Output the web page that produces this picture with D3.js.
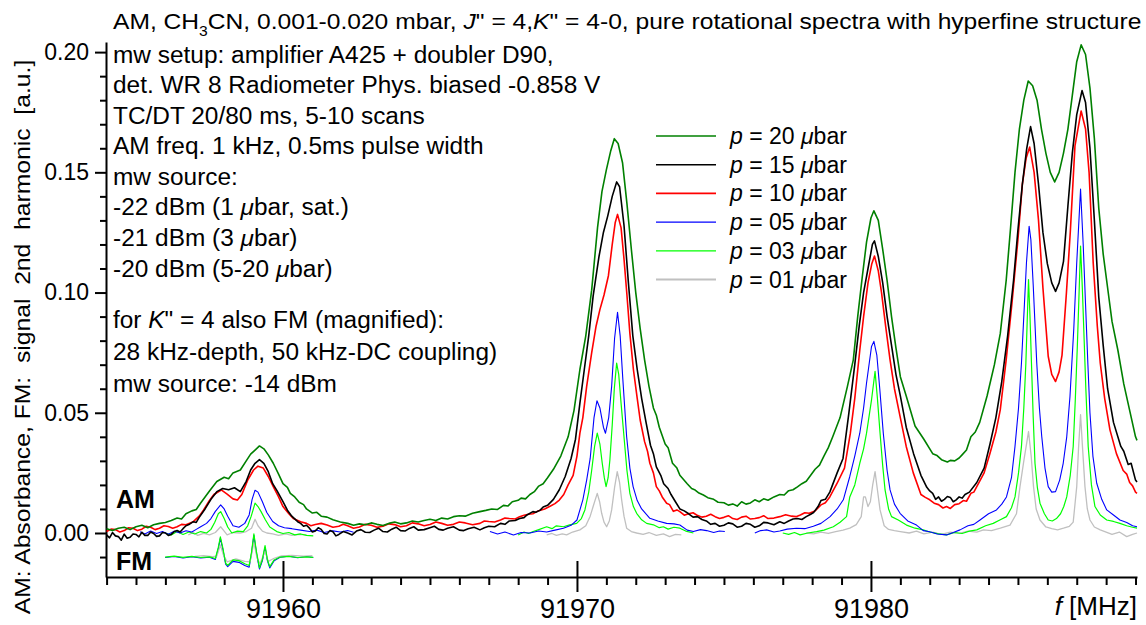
<!DOCTYPE html>
<html>
<head>
<meta charset="utf-8">
<script src="https://cdn.jsdelivr.net/npm/d3@7"></script>
<style>
  body { margin: 0; background: #fff; }
  svg { display: block; font-family: "Liberation Sans", Arial, sans-serif; }
</style>
</head>
<body>
<svg id="chart" width="1146" height="625"></svg>
<script>
'use strict';

// AM spectra, [f in MHz, signal], null = gap between scanned windows
const p20 = [[91954.0,0.0018],[91954.2,0.0010],[91954.4,0.0020],[91954.6,0.0024],[91954.8,0.0014],[91955.0,0.0026],[91955.2,0.0032],[91955.4,0.0022],[91955.6,0.0034],[91955.8,0.0040],[91956.0,0.0044],[91956.2,0.0052],[91956.4,0.0062],[91956.55,0.0058],[91956.7,0.0080],[91956.9,0.0092],[91957.05,0.0098],[91957.2,0.0125],[91957.35,0.0150],[91957.5,0.0175],[91957.75,0.0214],[91958.0,0.0232],[91958.15,0.0226],[91958.3,0.0250],[91958.55,0.0262],[91958.75,0.0300],[91958.9,0.0328],[91959.05,0.0345],[91959.2,0.0362],[91959.35,0.0350],[91959.5,0.0325],[91959.67,0.0290],[91959.85,0.0245],[91960.0,0.0205],[91960.15,0.0190],[91960.25,0.0165],[91960.4,0.0150],[91960.55,0.0128],[91960.7,0.0118],[91960.8,0.0100],[91961.0,0.0083],[91961.15,0.0086],[91961.3,0.0070],[91961.5,0.0066],[91961.7,0.0055],[91961.95,0.0046],[91962.2,0.0040],[91962.4,0.0032],[91962.6,0.0038],[91962.8,0.0034],[91963.0,0.0042],[91963.2,0.0036],[91963.4,0.0031],[91963.6,0.0040],[91963.8,0.0046],[91964.0,0.0038],[91964.2,0.0042],[91964.4,0.0050],[91964.6,0.0046],[91964.8,0.0052],[91965.0,0.0057],[91965.2,0.0052],[91965.4,0.0062],[91965.6,0.0058],[91965.8,0.0068],[91966.0,0.0072],[91966.2,0.0070],[91966.45,0.0082],[91966.7,0.0089],[91966.9,0.0094],[91967.1,0.0100],[91967.3,0.0098],[91967.5,0.0115],[91967.65,0.0112],[91967.8,0.0130],[91968.0,0.0136],[91968.1,0.0145],[91968.25,0.0142],[91968.4,0.0160],[91968.55,0.0172],[91968.7,0.0195],[91968.85,0.0205],[91969.0,0.0230],[91969.2,0.0265],[91969.45,0.0320],[91969.7,0.0400],[91969.9,0.0510],[91970.1,0.0680],[91970.3,0.0820],[91970.5,0.1010],[91970.7,0.1270],[91970.85,0.1420],[91971.0,0.1510],[91971.15,0.1590],[91971.27,0.1640],[91971.4,0.1620],[91971.55,0.1540],[91971.7,0.1370],[91971.85,0.1180],[91972.0,0.1000],[91972.15,0.0850],[91972.3,0.0720],[91972.45,0.0610],[91972.6,0.0520],[91972.7,0.0490],[91972.8,0.0440],[91973.0,0.0370],[91973.1,0.0355],[91973.25,0.0290],[91973.4,0.0270],[91973.5,0.0240],[91973.75,0.0205],[91973.9,0.0185],[91974.0,0.0180],[91974.15,0.0166],[91974.3,0.0158],[91974.45,0.0147],[91974.65,0.0140],[91974.8,0.0128],[91975.0,0.0126],[91975.15,0.0116],[91975.3,0.0121],[91975.45,0.0112],[91975.6,0.0130],[91975.75,0.0120],[91975.9,0.0125],[91976.05,0.0138],[91976.2,0.0130],[91976.35,0.0142],[91976.5,0.0136],[91976.7,0.0150],[91976.9,0.0160],[91977.05,0.0158],[91977.2,0.0176],[91977.35,0.0180],[91977.5,0.0192],[91977.65,0.0205],[91977.8,0.0215],[91977.95,0.0240],[91978.1,0.0265],[91978.25,0.0282],[91978.4,0.0320],[91978.55,0.0355],[91978.7,0.0400],[91978.95,0.0480],[91979.2,0.0610],[91979.4,0.0720],[91979.55,0.0900],[91979.7,0.1060],[91979.85,0.1210],[91980.0,0.1310],[91980.1,0.1340],[91980.25,0.1300],[91980.4,0.1180],[91980.55,0.1050],[91980.7,0.0900],[91980.85,0.0770],[91981.0,0.0650],[91981.2,0.0570],[91981.5,0.0445],[91981.8,0.0390],[91982.1,0.0330],[91982.25,0.0322],[91982.4,0.0305],[91982.6,0.0295],[91982.7,0.0302],[91982.85,0.0300],[91983.0,0.0312],[91983.1,0.0325],[91983.25,0.0345],[91983.4,0.0400],[91983.55,0.0420],[91983.7,0.0460],[91983.95,0.0570],[91984.2,0.0700],[91984.4,0.0830],[91984.6,0.1050],[91984.75,0.1270],[91984.9,0.1500],[91985.05,0.1680],[91985.2,0.1800],[91985.35,0.1880],[91985.5,0.1860],[91985.65,0.1800],[91985.8,0.1680],[91985.95,0.1580],[91986.1,0.1500],[91986.25,0.1460],[91986.4,0.1500],[91986.55,0.1580],[91986.7,0.1680],[91986.85,0.1820],[91987.0,0.1960],[91987.15,0.2030],[91987.3,0.1990],[91987.45,0.1850],[91987.6,0.1640],[91987.75,0.1350],[91987.9,0.1160],[91988.05,0.1020],[91988.2,0.0880],[91988.4,0.0760],[91988.6,0.0620],[91988.8,0.0510],[91989.0,0.0400],[91989.05,0.0385]];

const p15 = [[91954.0,-0.0008],[91954.1,-0.0020],[91954.2,0.0002],[91954.3,-0.0012],[91954.4,-0.0015],[91954.5,-0.0030],[91954.6,-0.0005],[91954.7,-0.0022],[91954.8,-0.0018],[91954.9,-0.0004],[91955.0,-0.0006],[91955.1,-0.0016],[91955.2,0.0003],[91955.3,-0.0010],[91955.4,-0.0010],[91955.5,0.0004],[91955.6,-0.0002],[91955.7,-0.0014],[91955.8,-0.0012],[91955.9,0.0002],[91956.0,0.0],[91956.1,-0.0010],[91956.2,-0.0006],[91956.3,0.0006],[91956.4,0.0010],[91956.5,0.0004],[91956.6,0.0018],[91956.7,0.0030],[91956.8,0.0035],[91956.95,0.0047],[91957.05,0.0044],[91957.15,0.0065],[91957.35,0.0100],[91957.55,0.0140],[91957.75,0.0172],[91957.95,0.0185],[91958.15,0.0180],[91958.35,0.0188],[91958.55,0.0172],[91958.75,0.0215],[91958.9,0.0262],[91959.05,0.0290],[91959.2,0.0305],[91959.35,0.0290],[91959.5,0.0255],[91959.65,0.0205],[91959.8,0.0175],[91960.0,0.0130],[91960.15,0.0095],[91960.3,0.0070],[91960.5,0.0047],[91960.6,0.0040],[91960.7,0.0028],[91960.8,0.0032],[91960.9,0.0020],[91961.0,0.0004],[91961.1,0.0008],[91961.2,0.0022],[91961.3,0.0015],[91961.4,-0.0002],[91961.5,-0.0004],[91961.6,0.0010],[91961.7,0.0005],[91961.8,-0.0012],[91961.9,-0.0006],[91962.05,0.0006],[91962.2,0.0],[91962.35,-0.0008],[91962.5,0.0008],[91962.65,0.0014],[91962.8,0.0003],[91962.95,0.0002],[91963.1,0.0012],[91963.25,0.0020],[91963.4,0.0006],[91963.55,0.0004],[91963.7,0.0016],[91963.85,0.0024],[91964.0,0.0010],[91964.15,0.0008],[91964.3,0.0019],[91964.45,0.0026],[91964.6,0.0012],[91964.8,0.0014],[91965.0,0.0022],[91965.15,0.0028],[91965.3,0.0015],[91965.45,0.0012],[91965.6,0.0020],[91965.8,0.0026],[91966.0,0.0012],[91966.15,0.0010],[91966.3,0.0018],[91966.5,0.0024],[91966.7,0.0013],[91966.85,0.0022],[91967.0,0.0028],[91967.2,0.0026],[91967.4,0.0040],[91967.55,0.0036],[91967.7,0.0050],[91967.9,0.0052],[91968.05,0.0060],[91968.2,0.0064],[91968.3,0.0075],[91968.5,0.0089],[91968.6,0.0086],[91968.75,0.0095],[91968.85,0.0108],[91969.0,0.0115],[91969.2,0.0140],[91969.4,0.0180],[91969.6,0.0235],[91969.8,0.0310],[91969.95,0.0390],[91970.1,0.0540],[91970.25,0.0680],[91970.4,0.0820],[91970.55,0.0985],[91970.75,0.1150],[91970.9,0.1250],[91971.05,0.1320],[91971.2,0.1400],[91971.35,0.1460],[91971.45,0.1440],[91971.6,0.1280],[91971.75,0.1040],[91971.9,0.0820],[91972.05,0.0680],[91972.2,0.0560],[91972.35,0.0460],[91972.5,0.0365],[91972.6,0.0330],[91972.7,0.0275],[91972.85,0.0240],[91972.95,0.0205],[91973.1,0.0185],[91973.2,0.0160],[91973.35,0.0130],[91973.5,0.0100],[91973.65,0.0092],[91973.8,0.0080],[91973.95,0.0066],[91974.1,0.0068],[91974.25,0.0056],[91974.4,0.0050],[91974.55,0.0036],[91974.7,0.0040],[91974.85,0.0028],[91975.0,0.0032],[91975.15,0.0042],[91975.3,0.0038],[91975.45,0.0024],[91975.6,0.0028],[91975.75,0.0040],[91975.9,0.0036],[91976.05,0.0024],[91976.2,0.0030],[91976.35,0.0044],[91976.5,0.0042],[91976.7,0.0034],[91976.9,0.0047],[91977.05,0.0040],[91977.2,0.0050],[91977.35,0.0058],[91977.5,0.0060],[91977.65,0.0056],[91977.8,0.0068],[91977.95,0.0078],[91978.05,0.0085],[91978.2,0.0110],[91978.3,0.0135],[91978.45,0.0140],[91978.6,0.0170],[91978.85,0.0250],[91979.05,0.0310],[91979.25,0.0500],[91979.45,0.0700],[91979.6,0.0860],[91979.75,0.1000],[91979.9,0.1100],[91980.05,0.1200],[91980.12,0.1215],[91980.25,0.1150],[91980.4,0.1040],[91980.55,0.0900],[91980.7,0.0780],[91980.85,0.0660],[91981.0,0.0570],[91981.2,0.0440],[91981.45,0.0330],[91981.7,0.0240],[91981.9,0.0190],[91982.0,0.0175],[91982.1,0.0165],[91982.2,0.0140],[91982.3,0.0150],[91982.4,0.0132],[91982.5,0.0140],[91982.6,0.0152],[91982.7,0.0148],[91982.8,0.0130],[91982.9,0.0138],[91983.0,0.0150],[91983.1,0.0145],[91983.2,0.0160],[91983.35,0.0170],[91983.6,0.0210],[91983.85,0.0270],[91984.05,0.0370],[91984.25,0.0480],[91984.45,0.0630],[91984.65,0.0820],[91984.85,0.1050],[91985.0,0.1260],[91985.15,0.1450],[91985.3,0.1600],[91985.43,0.1690],[91985.55,0.1620],[91985.7,0.1450],[91985.85,0.1250],[91986.0,0.1120],[91986.15,0.1040],[91986.28,0.1005],[91986.4,0.1040],[91986.55,0.1130],[91986.7,0.1360],[91986.85,0.1580],[91987.0,0.1740],[91987.18,0.1840],[91987.3,0.1790],[91987.45,0.1600],[91987.6,0.1300],[91987.75,0.0980],[91987.9,0.0780],[91988.05,0.0600],[91988.25,0.0460],[91988.5,0.0360],[91988.6,0.0340],[91988.75,0.0285],[91988.85,0.0290],[91989.0,0.0220],[91989.05,0.0212]];

const p10 = [[91954.0,0.0006],[91954.15,0.0016],[91954.3,0.0014],[91954.45,0.0004],[91954.6,0.0010],[91954.75,0.0022],[91954.9,0.0020],[91955.05,0.0010],[91955.2,0.0016],[91955.35,0.0028],[91955.5,0.0024],[91955.65,0.0014],[91955.8,0.0020],[91955.95,0.0030],[91956.1,0.0027],[91956.25,0.0020],[91956.4,0.0026],[91956.55,0.0036],[91956.7,0.0034],[91956.95,0.0047],[91957.15,0.0070],[91957.3,0.0096],[91957.5,0.0135],[91957.65,0.0160],[91957.9,0.0179],[91958.1,0.0162],[91958.3,0.0142],[91958.45,0.0137],[91958.6,0.0160],[91958.8,0.0220],[91959.0,0.0262],[91959.15,0.0278],[91959.33,0.0270],[91959.5,0.0235],[91959.67,0.0193],[91959.85,0.0150],[91960.0,0.0110],[91960.2,0.0080],[91960.35,0.0060],[91960.6,0.0047],[91960.8,0.0040],[91960.95,0.0030],[91961.1,0.0035],[91961.3,0.0040],[91961.5,0.0033],[91961.7,0.0024],[91961.9,0.0028],[91962.05,0.0036],[91962.2,0.0030],[91962.4,0.0020],[91962.6,0.0025],[91962.8,0.0036],[91963.0,0.0032],[91963.2,0.0024],[91963.4,0.0028],[91963.6,0.0038],[91963.8,0.0035],[91964.0,0.0026],[91964.2,0.0030],[91964.4,0.0042],[91964.6,0.0038],[91964.8,0.0030],[91965.0,0.0035],[91965.2,0.0046],[91965.4,0.0040],[91965.6,0.0032],[91965.8,0.0036],[91966.0,0.0046],[91966.2,0.0042],[91966.45,0.0034],[91966.7,0.0040],[91966.85,0.0050],[91967.0,0.0048],[91967.2,0.0046],[91967.4,0.0054],[91967.55,0.0062],[91967.7,0.0060],[91967.9,0.0058],[91968.05,0.0068],[91968.2,0.0074],[91968.35,0.0078],[91968.5,0.0080],[91968.65,0.0090],[91968.9,0.0100],[91969.1,0.0112],[91969.25,0.0122],[91969.4,0.0137],[91969.55,0.0160],[91969.7,0.0200],[91969.87,0.0240],[91970.0,0.0320],[91970.1,0.0415],[91970.2,0.0480],[91970.33,0.0610],[91970.5,0.0749],[91970.65,0.0860],[91970.78,0.0929],[91970.92,0.0990],[91971.07,0.1070],[91971.2,0.1200],[91971.3,0.1290],[91971.38,0.1325],[91971.5,0.1270],[91971.6,0.1140],[91971.7,0.0990],[91971.8,0.0830],[91971.92,0.0680],[91972.05,0.0560],[91972.15,0.0470],[91972.3,0.0380],[91972.4,0.0340],[91972.48,0.0290],[91972.6,0.0250],[91972.7,0.0193],[91972.8,0.0175],[91972.9,0.0150],[91973.05,0.0124],[91973.15,0.0118],[91973.28,0.0090],[91973.4,0.0096],[91973.5,0.0089],[91973.65,0.0074],[91973.8,0.0080],[91973.95,0.0084],[91974.07,0.0075],[91974.25,0.0066],[91974.4,0.0070],[91974.55,0.0078],[91974.7,0.0068],[91974.85,0.0060],[91975.0,0.0065],[91975.15,0.0072],[91975.3,0.0060],[91975.45,0.0056],[91975.6,0.0066],[91975.75,0.0070],[91975.9,0.0058],[91976.05,0.0060],[91976.2,0.0064],[91976.35,0.0072],[91976.5,0.0060],[91976.7,0.0062],[91976.9,0.0068],[91977.1,0.0076],[91977.3,0.0070],[91977.45,0.0068],[91977.6,0.0075],[91977.75,0.0084],[91977.9,0.0082],[91978.1,0.0092],[91978.3,0.0117],[91978.45,0.0126],[91978.6,0.0150],[91978.85,0.0207],[91979.1,0.0270],[91979.3,0.0415],[91979.45,0.0560],[91979.62,0.0760],[91979.75,0.0900],[91979.9,0.1040],[91980.03,0.1120],[91980.12,0.1152],[91980.25,0.1090],[91980.36,0.1000],[91980.5,0.0860],[91980.65,0.0720],[91980.8,0.0600],[91980.99,0.0485],[91981.2,0.0360],[91981.44,0.0250],[91981.7,0.0160],[91981.85,0.0148],[91982.0,0.0138],[91982.15,0.0124],[91982.3,0.0118],[91982.45,0.0104],[91982.57,0.0110],[91982.7,0.0102],[91982.85,0.0118],[91983.0,0.0122],[91983.14,0.0135],[91983.25,0.0132],[91983.4,0.0165],[91983.5,0.0170],[91983.6,0.0193],[91983.85,0.0250],[91984.05,0.0332],[91984.25,0.0420],[91984.4,0.0513],[91984.6,0.0720],[91984.8,0.0960],[91985.0,0.1220],[91985.15,0.1450],[91985.28,0.1560],[91985.4,0.1605],[91985.55,0.1500],[91985.7,0.1300],[91985.85,0.1020],[91986.03,0.0735],[91986.15,0.0660],[91986.28,0.0630],[91986.4,0.0670],[91986.5,0.0740],[91986.65,0.1000],[91986.78,0.1250],[91986.94,0.1610],[91987.15,0.1755],[91987.3,0.1680],[91987.42,0.1500],[91987.56,0.1124],[91987.7,0.0860],[91987.8,0.0707],[91987.95,0.0560],[91988.13,0.0429],[91988.35,0.0330],[91988.58,0.0260],[91988.7,0.0245],[91988.8,0.0210],[91988.9,0.0196],[91989.0,0.0170],[91989.05,0.0165]];

const p05 = [[91955.14,0.0005],[91955.3,-0.0004],[91955.5,0.0008],[91955.7,-0.0002],[91955.9,0.0006],[91956.1,-0.0005],[91956.3,0.0007],[91956.5,0.0000],[91956.7,0.0009],[91956.9,0.0004],[91957.05,0.0015],[91957.2,0.0026],[91957.4,0.0040],[91957.55,0.0060],[91957.7,0.0090],[91957.88,0.0117],[91958.0,0.0100],[91958.12,0.0070],[91958.3,0.0030],[91958.5,0.0024],[91958.7,0.0040],[91958.85,0.0075],[91958.95,0.0140],[91959.05,0.0178],[91959.15,0.0170],[91959.3,0.0130],[91959.45,0.0085],[91959.65,0.0048],[91959.85,0.0030],[91960.05,0.0022],[91960.3,0.0018],[91960.6,0.0012],[91960.9,0.0006],[91961.15,0.0012],[91961.4,0.0002],[91961.7,0.0009],[91961.95,0.0004],[91962.2,0.0010],[91962.4,0.0003],
  null,
  [91967.04,0.0006],[91967.3,-0.0004],[91967.55,0.0004],[91967.84,-0.0008],[91968.1,0.0002],[91968.4,0.0],[91968.7,0.0008],[91968.97,0.0004],[91969.25,0.0012],[91969.54,0.0020],[91969.8,0.0032],[91970.0,0.0054],[91970.2,0.0138],[91970.33,0.0220],[91970.45,0.0310],[91970.58,0.0480],[91970.68,0.0550],[91970.78,0.0520],[91970.9,0.0440],[91970.97,0.0415],[91971.08,0.0480],[91971.18,0.0610],[91971.28,0.0810],[91971.38,0.0918],[91971.47,0.0820],[91971.56,0.0640],[91971.69,0.0400],[91971.8,0.0270],[91971.91,0.0193],[91972.05,0.0135],[91972.2,0.0100],[91972.48,0.0061],[91972.75,0.0050],[91973.05,0.0040],[91973.3,0.0038],[91973.5,0.0033],[91973.75,0.0012],[91973.96,0.0006],[91974.2,0.0014],[91974.41,0.0010],[91974.65,0.0002],[91974.85,0.0008],[91975.03,0.0006],
  null,
  [91976.05,0.0],[91976.25,0.0010],[91976.45,0.0013],[91976.7,0.0004],[91976.9,0.0008],[91977.15,0.0016],[91977.47,0.0020],[91977.75,0.0018],[91978.04,0.0028],[91978.3,0.0040],[91978.61,0.0068],[91978.85,0.0100],[91979.06,0.0138],[91979.28,0.0235],[91979.45,0.0320],[91979.62,0.0415],[91979.75,0.0520],[91979.85,0.0624],[91980.02,0.0776],[91980.1,0.0797],[91980.2,0.0740],[91980.3,0.0600],[91980.42,0.0415],[91980.55,0.0260],[91980.65,0.0179],[91980.8,0.0120],[91980.99,0.0082],[91981.25,0.0050],[91981.55,0.0033],[91981.78,0.0010],[91982.0,0.0005],[91982.25,-0.0004],[91982.57,-0.0008],[91982.8,0.0002],[91983.03,0.0013],[91983.3,0.0030],[91983.5,0.0036],[91983.71,0.0054],[91984.0,0.0080],[91984.27,0.0096],[91984.45,0.0120],[91984.61,0.0150],[91984.78,0.0230],[91984.9,0.0360],[91985.02,0.0520],[91985.12,0.0707],[91985.22,0.0950],[91985.29,0.1124],[91985.38,0.1276],[91985.44,0.1220],[91985.52,0.1030],[91985.64,0.0707],[91985.73,0.0520],[91985.81,0.0401],[91985.92,0.0270],[91986.03,0.0193],[91986.15,0.0170],[91986.28,0.0172],[91986.42,0.0220],[91986.54,0.0290],[91986.66,0.0400],[91986.77,0.0568],[91986.9,0.0850],[91987.0,0.1124],[91987.13,0.1430],[91987.22,0.1200],[91987.3,0.0950],[91987.38,0.0700],[91987.45,0.0499],[91987.55,0.0320],[91987.68,0.0207],[91987.85,0.0140],[91988.02,0.0096],[91988.25,0.0075],[91988.47,0.0054],[91988.7,0.0044],[91988.9,0.0030],[91989.05,0.0026]];

const p03 = [[91955.99,0.0],[91956.2,-0.0008],[91956.4,0.0006],[91956.6,-0.0006],[91956.8,0.0004],[91957.0,-0.0004],[91957.2,0.0006],[91957.4,0.0000],[91957.55,0.0015],[91957.68,0.0045],[91957.8,0.0080],[91957.88,0.0089],[91958.0,0.0060],[91958.12,0.0025],[91958.26,0.0],[91958.45,0.0008],[91958.65,0.0006],[91958.8,0.0030],[91958.92,0.0070],[91959.05,0.0124],[91959.15,0.0110],[91959.25,0.0090],[91959.4,0.0055],[91959.55,0.0025],[91959.79,0.0006],[91960.0,-0.0002],[91960.2,0.0002],[91960.4,-0.0008],[91960.6,-0.0004],[91960.8,-0.0010],[91961.03,-0.0012],
  null,
  [91968.0,-0.0008],[91968.2,0.0004],[91968.35,-0.0002],[91968.51,0.0006],[91968.7,0.0014],[91968.97,0.0026],[91969.15,0.0018],[91969.3,0.0030],[91969.54,0.0026],[91969.75,0.0034],[91969.99,0.0040],[91970.15,0.0060],[91970.27,0.0096],[91970.4,0.0170],[91970.5,0.0260],[91970.6,0.0360],[91970.69,0.0415],[91970.78,0.0370],[91970.86,0.0290],[91970.93,0.0230],[91970.99,0.0193],[91971.06,0.0230],[91971.12,0.0304],[91971.2,0.0450],[91971.27,0.0600],[91971.35,0.0707],[91971.42,0.0660],[91971.5,0.0540],[91971.6,0.0400],[91971.7,0.0260],[91971.8,0.0165],[91971.92,0.0110],[91972.03,0.0082],[91972.2,0.0055],[91972.37,0.0040],[91972.6,0.0034],[91972.8,0.0022],[91972.94,0.0026],[91973.1,0.0016],[91973.3,0.0024],[91973.5,0.0020],[91973.7,0.0008],[91973.96,0.0],
  null,
  [91977.0,0.0],[91977.2,-0.0006],[91977.4,0.0002],[91977.59,-0.0008],[91977.85,0.0000],[91978.15,0.0006],[91978.4,0.0012],[91978.72,0.0026],[91978.95,0.0045],[91979.17,0.0068],[91979.28,0.0150],[91979.45,0.0200],[91979.62,0.0290],[91979.75,0.0350],[91979.85,0.0415],[91980.02,0.0554],[91980.14,0.0672],[91980.22,0.0560],[91980.31,0.0415],[91980.4,0.0280],[91980.48,0.0179],[91980.6,0.0100],[91980.7,0.0068],[91980.93,0.0054],[91981.21,0.0033],[91981.5,0.0020],[91981.78,0.0013],[91982.0,0.0004],[91982.3,-0.0004],[91982.57,-0.0008],[91982.85,0.0002],[91983.1,-0.0002],[91983.35,0.0008],[91983.6,0.0013],[91983.9,0.0030],[91984.16,0.0040],[91984.4,0.0055],[91984.61,0.0068],[91984.78,0.0105],[91984.9,0.0150],[91985.02,0.0250],[91985.12,0.0360],[91985.2,0.0520],[91985.27,0.0707],[91985.36,0.1054],[91985.41,0.0900],[91985.46,0.0707],[91985.52,0.0480],[91985.58,0.0290],[91985.66,0.0190],[91985.75,0.0124],[91985.9,0.0080],[91986.03,0.0054],[91986.17,0.0050],[91986.31,0.0060],[91986.45,0.0080],[91986.56,0.0110],[91986.66,0.0150],[91986.78,0.0240],[91986.88,0.0360],[91986.95,0.0550],[91987.02,0.0776],[91987.08,0.1000],[91987.13,0.1193],[91987.19,0.1020],[91987.24,0.0846],[91987.31,0.0600],[91987.39,0.0360],[91987.5,0.0200],[91987.62,0.0110],[91987.8,0.0075],[91988.02,0.0054],[91988.25,0.0048],[91988.47,0.0040],[91988.7,0.0030],[91988.9,0.0024],[91989.05,0.0020]];

const p01 = [[91956.78,-0.0008],[91956.95,0.0002],[91957.1,-0.0010],[91957.3,-0.0002],[91957.5,-0.0008],[91957.7,0.0002],[91957.88,0.0026],[91958.0,0.0008],[91958.1,-0.0008],[91958.3,0.0002],[91958.54,0.0],[91958.75,0.0006],[91958.93,0.0020],[91959.05,0.0057],[91959.15,0.0030],[91959.3,0.0008],[91959.45,0.0],[91959.65,-0.0004],[91959.85,-0.0010],[91960.1,-0.0004],[91960.3,-0.0010],[91960.55,-0.0006],[91960.8,-0.0008],
  null,
  [91968.97,-0.0008],[91969.15,-0.0002],[91969.3,-0.0010],[91969.5,-0.0004],[91969.65,-0.0008],[91969.85,0.0004],[91970.1,0.0013],[91970.3,0.0030],[91970.45,0.0070],[91970.55,0.0110],[91970.69,0.0165],[91970.77,0.0130],[91970.84,0.0082],[91970.92,0.0045],[91971.01,0.0026],[91971.1,0.0050],[91971.18,0.0096],[91971.28,0.0190],[91971.37,0.0255],[91971.45,0.0210],[91971.52,0.0138],[91971.6,0.0070],[91971.69,0.0020],[91971.85,0.0006],[91972.03,0.0],[91972.25,-0.0006],[91972.45,0.0002],[91972.7,-0.0010],[91972.94,-0.0004],[91973.15,-0.0015],[91973.35,-0.0006],[91973.55,-0.0008],
  null,
  [91977.8,0.0],[91978.05,-0.0004],[91978.3,0.0004],[91978.55,-0.0002],[91978.8,0.0006],[91979.05,0.0012],[91979.28,0.0020],[91979.5,0.0035],[91979.67,0.0068],[91979.75,0.0150],[91979.81,0.0150],[91979.9,0.0110],[91979.98,0.0130],[91980.06,0.0200],[91980.14,0.0255],[91980.22,0.0180],[91980.31,0.0096],[91980.45,0.0030],[91980.6,0.0015],[91980.8,0.0010],[91981.0,0.0006],[91981.3,0.0000],[91981.55,0.0008],[91981.8,-0.0004],[91982.1,0.0004],[91982.4,-0.0006],[91982.7,0.0004],[91983.0,-0.0002],[91983.3,0.0008],[91983.6,0.0004],[91983.83,0.0013],[91984.1,0.0010],[91984.4,0.0020],[91984.73,0.0033],[91984.95,0.0080],[91985.07,0.0193],[91985.2,0.0300],[91985.36,0.0422],[91985.45,0.0320],[91985.53,0.0193],[91985.62,0.0100],[91985.75,0.0054],[91985.95,0.0025],[91986.15,0.0018],[91986.35,0.0013],[91986.55,0.0020],[91986.75,0.0028],[91986.88,0.0045],[91987.0,0.0193],[91987.06,0.0350],[91987.13,0.0492],[91987.2,0.0350],[91987.28,0.0193],[91987.36,0.0100],[91987.45,0.0054],[91987.6,0.0025],[91987.8,0.0013],[91988.0,0.0004],[91988.2,-0.0006],[91988.45,0.0004],[91988.7,-0.0015],[91988.9,-0.0006],[91989.05,0.0]];

// FM traces (magnified, drawn below the AM baseline)
const fm05 = [[91955.99,-0.0102],[91956.3,-0.0098],[91956.6,-0.0104],[91956.9,-0.0099],[91957.2,-0.0104],[91957.5,-0.0101],[91957.7,-0.0110],[91957.8,-0.0065],[91957.87,-0.0022],[91957.95,-0.0065],[91958.05,-0.0130],[91958.12,-0.0140],[91958.3,-0.0118],[91958.5,-0.0122],[91958.7,-0.0135],[91958.85,-0.0142],[91958.93,-0.0085],[91959.01,-0.0010],[91959.1,-0.0085],[91959.2,-0.0150],[91959.3,-0.0115],[91959.39,-0.0060],[91959.47,-0.0115],[91959.55,-0.0145],[91959.7,-0.0115],[91959.9,-0.0101],[91960.2,-0.0097],[91960.5,-0.0103],[91960.8,-0.0098],[91961.03,-0.0102]];
const fm03 = [[91955.99,-0.0100],[91956.3,-0.0096],[91956.6,-0.0101],[91956.9,-0.0097],[91957.2,-0.0102],[91957.5,-0.0099],[91957.7,-0.0106],[91957.8,-0.0060],[91957.87,-0.0016],[91957.95,-0.0060],[91958.05,-0.0125],[91958.12,-0.0135],[91958.3,-0.0112],[91958.5,-0.0115],[91958.7,-0.0128],[91958.85,-0.0135],[91958.93,-0.0080],[91959.01,-0.0004],[91959.1,-0.0080],[91959.2,-0.0145],[91959.3,-0.0110],[91959.39,-0.0052],[91959.47,-0.0110],[91959.55,-0.0140],[91959.7,-0.0112],[91959.9,-0.0100],[91960.2,-0.0097],[91960.5,-0.0102],[91960.8,-0.0099],[91961.03,-0.0101]];
const fm01 = [[91957.0,-0.0097],[91957.3,-0.0094],[91957.6,-0.0098],[91957.75,-0.0096],[91957.87,-0.0050],[91957.97,-0.0090],[91958.1,-0.0120],[91958.4,-0.0108],[91958.7,-0.0118],[91958.88,-0.0120],[91959.01,-0.0040],[91959.12,-0.0105],[91959.22,-0.0128],[91959.39,-0.0075],[91959.5,-0.0118],[91959.7,-0.0105],[91959.95,-0.0095],[91960.3,-0.0093],[91960.7,-0.0096],[91961.0,-0.0094]];

const legendLabels = ["20", "15", "10", "05", "03", "01"];
const yMajor = [0, 0.05, 0.10, 0.15, 0.20];
const xMajor = [91960, 91970, 91980];

const noteLines = [
  "mw setup: amplifier A425 + doubler D90,",
  "det. WR 8 Radiometer Phys. biased -0.858 V",
  "TC/DT 20/80 ms, 5-10 scans",
  "AM freq. 1 kHz, 0.5ms pulse width",
  "mw source:",
  "-22 dBm (1 *μ*bar, sat.)",
  "-21 dBm (3 *μ*bar)",
  "-20 dBm (5-20 *μ*bar)",
  "",
  "for *K*\" = 4 also FM (magnified):",
  "28 kHz-depth, 50 kHz-DC coupling)",
  "mw source: -14 dBm"
];

const colors = ["#008000", "#000000", "#ff0000", "#0000ff", "#00ff00", "#c0c0c0"];
const widths = [1.6, 1.6, 1.6, 1.1, 1.2, 1.3];

const svg = d3.select("#chart");
const x = d3.scaleLinear().domain([91953.98, 91989.05]).range([106, 1137]);
const y = d3.scaleLinear().domain([-0.0183, 0.2042]).range([577, 42]);

// ---- axes
const yMinor = d3.range(-1, 21).map(d => d / 100).filter(d => Math.round(d * 100) % 5 !== 0);
const xMinor = d3.range(91954, 91990).filter(d => d % 10 !== 0);

svg.append("g").attr("transform", "translate(106,0)")
  .call(d3.axisLeft(y).tickValues(yMinor).tickSize(6).tickSizeOuter(0).tickFormat(""))
  .call(g => g.select(".domain").remove());
const yAx = svg.append("g").attr("transform", "translate(106,0)")
  .call(d3.axisLeft(y).tickValues(yMajor).tickSize(11).tickPadding(6).tickSizeOuter(0).tickFormat(d3.format(".2f")));
yAx.selectAll("text").attr("font-size", 23).attr("font-family", null).attr("fill", "#000");

svg.append("g").attr("transform", "translate(0,577)")
  .call(d3.axisBottom(x).tickValues(xMinor).tickSize(8).tickSizeOuter(0).tickFormat(""))
  .call(g => g.select(".domain").remove());
svg.append("g").attr("transform", "translate(0,577)")
  .call(d3.axisTop(x).tickValues(xMajor).tickSize(16).tickFormat(""))
  .call(g => g.select(".domain").remove());
const xAx = svg.append("g").attr("transform", "translate(0,577)")
  .call(d3.axisBottom(x).tickValues(xMajor).tickSize(15).tickSizeOuter(0).tickFormat(d3.format("d")));
xAx.selectAll("text").attr("font-size", 27).attr("font-family", null).attr("fill", "#000")
  .attr("y", 41).attr("dy", null);

svg.selectAll(".tick line, .domain").attr("stroke", "#000").attr("stroke-width", 2);

// ---- spectra
const line = d3.line()
  .defined(d => d !== null)
  .x(d => x(d[0]))
  .y(d => y(d[1]));

const amSeries = [p20, p15, p10, p05, p03, p01];
const drawOrder = [5, 4, 3, 2, 1, 0];
drawOrder.forEach(i => {
  svg.append("path").datum(amSeries[i])
    .attr("fill", "none").attr("stroke", colors[i]).attr("stroke-width", widths[i])
    .attr("stroke-linejoin", "round").attr("d", line);
});
[[fm05, 3], [fm01, 5], [fm03, 4]].forEach(([s, i]) => {
  svg.append("path").datum(s)
    .attr("fill", "none").attr("stroke", colors[i]).attr("stroke-width", widths[i])
    .attr("stroke-linejoin", "round").attr("d", line);
});

// ---- legend
legendLabels.forEach((lab, i) => {
  const ly = 136 + i * 28.7;
  svg.append("line").attr("x1", 656).attr("x2", 716).attr("y1", ly).attr("y2", ly)
    .attr("stroke", colors[i]).attr("stroke-width", i === 5 ? 2 : widths[i]);
  const t = svg.append("text").attr("x", 730).attr("y", ly + 8).attr("font-size", 23);
  t.append("tspan").attr("font-style", "italic").text("p");
  t.append("tspan").text(` = ${lab} `);
  t.append("tspan").attr("font-style", "italic").text("μ");
  t.append("tspan").text("bar");
});

// ---- text blocks
function richText(sel, str) {
  str.split("*").forEach((part, k) => {
    if (part) sel.append("tspan").attr("font-style", k % 2 ? "italic" : null).text(part);
  });
}

const title = svg.append("text").attr("x", 0).attr("y", 0).attr("font-size", 22);
title.append("tspan").text("AM, CH");
title.append("tspan").attr("font-size", 14).attr("dy", 7).text("3");
title.append("tspan").attr("dy", -7).text("CN, 0.001-0.020 mbar, ");
richText(title, "*J*\" = 4,*K*\" = 4-0, pure rotational spectra with hyperfine structure");
const tw = title.node().getComputedTextLength();
title.attr("transform", `translate(113,29) scale(${1029 / tw},1)`);

const notes = svg.append("g");
const noteY = [63, 93, 124, 154, 185, 215, 246, 277, 0, 328, 360, 392];
let refW = 1;
noteLines.forEach((s, i) => {
  if (!s) return;
  const t = notes.append("text").attr("x", 0).attr("y", noteY[i]).attr("font-size", 23);
  richText(t, s);
  if (i === 11) refW = t.node().getComputedTextLength();
});
notes.attr("transform", `translate(113,0) scale(${224 / refW},1)`);

svg.append("text").attr("x", 116).attr("y", 508).attr("font-size", 25).attr("font-weight", "bold").text("AM");
svg.append("text").attr("x", 116).attr("y", 570).attr("font-size", 25).attr("font-weight", "bold").text("FM");

const fl = svg.append("text").attr("x", 1137).attr("y", 615).attr("font-size", 26).attr("text-anchor", "end");
fl.append("tspan").attr("font-style", "italic").text("f");
fl.append("tspan").text(" [MHz]");

const yl = svg.append("text").attr("font-size", 22).attr("text-anchor", "middle")
  .attr("xml:space", "preserve").style("white-space", "pre")
  .text("AM: Absorbance, FM:  signal  2nd  harmonic  [a.u.]");
const yw = yl.node().getComputedTextLength();
yl.attr("transform", `translate(30,337) rotate(-90) scale(${555 / yw},1)`);
</script>
</body>
</html>
